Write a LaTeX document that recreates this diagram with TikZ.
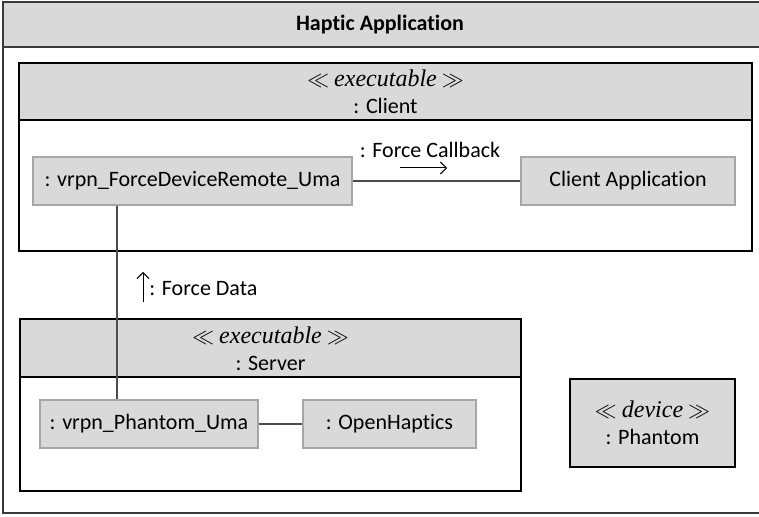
\documentclass[tikz,border=0pt]{standalone}
\usepackage{fontspec}
\setmainfont{Carlito}[Ligatures={NoCommon}]
\newfontfamily\stereofont{Liberation Serif}
\usetikzlibrary{calc, arrows.meta}
\definecolor{Shade}{HTML}{D9D9D9}
\definecolor{Rim}{HTML}{A6A6A6}
\definecolor{Frame}{HTML}{3A3A3A}
\newcommand{\stereo}[1]{$\ll$\ {\stereofont\itshape\fontsize{12}{13.5}\selectfont #1}\ $\gg$}

\begin{document}
\begin{tikzpicture}[x=0.5pt, y=-0.5pt, font=\fontsize{11}{13.5}\selectfont,
    part/.style={fill=Shade, draw=Rim, line width=0.6pt, minimum height=24pt, inner sep=0pt},
    wire/.style={draw=black!70, line width=0.6pt}]
    \useasboundingbox (0,0) rectangle (759,517);
    \draw[fill=Shade, draw=Frame, line width=1.2pt] (3,2) rectangle (764,47);
    \draw[draw=Frame, line width=1.2pt] (3,47) rectangle (764,513);
    \node (title) at (380,25) {\bfseries Haptic Application};

    \draw[fill=Shade, line width=1pt] (19,63) rectangle (752,120);
    \draw[line width=1pt] (19,120) rectangle (752,251);
    \node[align=center] (client) at (385.5,92) {\stereo{executable}\\: Client};

    \draw[fill=Shade, line width=1pt] (20,319) rectangle (521,377);
    \draw[line width=1pt] (20,377) rectangle (521,491);
    \node[align=center] (server) at (270.5,349) {\stereo{executable}\\: Server};

    \node[fill=Shade, draw=black, line width=1.2pt, minimum width=82.5pt, minimum height=44pt, align=center] (phantom) at (652.5,423) {\stereo{device}\\: Phantom};

    \node[part, minimum width=159.5pt] (fdr) at (192.5,181) {: vrpn\_ForceDeviceRemote\_Uma};
    \node[part, minimum width=107pt] (capp) at (628,181) {Client Application};
    \node[part, minimum width=109pt] (phum) at (149,424) {: vrpn\_Phantom\_Uma};
    \node[part, minimum width=86.5pt] (ohap) at (389.5,424) {: OpenHaptics};

    \draw[wire] (fdr.east) -- (capp.west);
    \draw[wire] (phum.east) -- (ohap.west);
    \coordinate (drop) at (117,300);
    \draw[wire] (fdr.south -| drop) -- (phum.north -| drop);

    \node (callback) at (430,150) {: Force Callback};
    \coordinate (cbtail) at (400,168);
    \coordinate (cbhead) at (447,168);
    \draw[-{Straight Barb[length=3pt]}, line width=0.5pt] (cbtail) -- (cbhead);

    \node[anchor=west, inner sep=0pt] (forcedata) at (149,289) {: Force Data};
    \coordinate (fdtail) at (143,302);
    \coordinate (fdhead) at (143,272);
    \draw[-{Straight Barb[length=3pt]}, line width=0.5pt] (fdtail) -- (fdhead);
\end{tikzpicture}
\end{document}
